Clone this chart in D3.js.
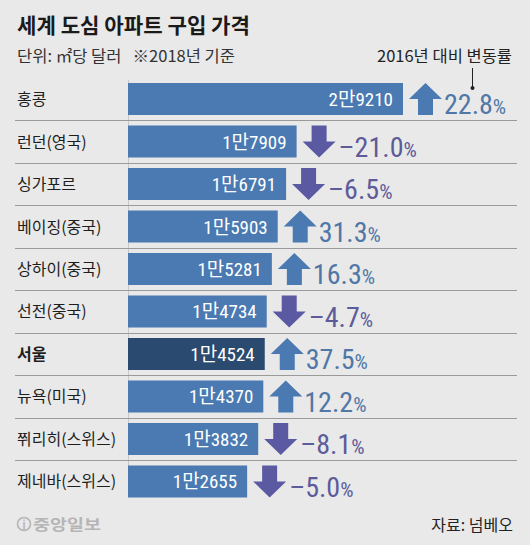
<!DOCTYPE html>
<html><head><meta charset="utf-8">
<script src="https://cdn.jsdelivr.net/npm/d3@7"></script>
<style>
html,body{margin:0;padding:0;background:#e9e9e9;}
svg{display:block;}
</style></head>
<body>
<svg id="chart" width="530" height="545"></svg>
<script>
const cities = ["홍콩","런던(영국)","싱가포르","베이징(중국)","상하이(중국)","선전(중국)","서울","뉴욕(미국)","쮜리히(스위스)","제네바(스위스)"];
const prices = [29210,17909,16791,15903,15281,14734,14524,14370,13832,12655];
const priceLabels = ["2만9210","1만7909","1만6791","1만5903","1만5281","1만4734","1만4524","1만4370","1만3832","1만2655"];
const changes = [22.8,-21.0,-6.5,31.3,16.3,-4.7,37.5,12.2,-8.1,-5.0];
const highlight = ["서울"];

const title = "세계 도심 아파트 구입 가격";
const subtitle = "단위: ㎡당 달러   ※2018년 기준";
const changeTitle = "2016년 대비 변동률";
const source = "자료: 넘베오";
const logo = "중앙일보";

const KR = "'Noto Sans CJK KR', sans-serif";
const NUM = "'Liberation Sans Narrow','Roboto Condensed','Arial Narrow','Noto Sans CJK KR',sans-serif";
const blue = "#4a7ab1", dark = "#2b4a6f", purple = "#5a59a2";
const upText = "#5077a6", downText = "#5d5b99";

const svg = d3.select("#chart");
const data = cities.map((c,i)=>({city:c, price:prices[i], label:priceLabels[i], change:changes[i]}));

const y = d3.scaleBand().domain(cities).range([83, 497.5]).paddingInner(0.247).paddingOuter(0);
const x = d3.scaleLinear().domain([0, 29210]).range([128, 403]);

// title
svg.append("text").attr("x",17).attr("y",33).text(title)
  .attr("font-family",KR).attr("font-weight","bold").attr("font-size",21)
  .attr("fill","#1a1a1a").attr("textLength",233).attr("lengthAdjust","spacingAndGlyphs");
svg.append("text").attr("x",17).attr("y",62).text(subtitle)
  .attr("font-family",KR).attr("font-size",16).attr("fill","#333")
  .attr("textLength",218).attr("lengthAdjust","spacingAndGlyphs").style("white-space","pre");
svg.append("text").attr("x",512).attr("y",62).attr("text-anchor","end").text(changeTitle)
  .attr("font-family",KR).attr("font-size",16).attr("fill","#222")
  .attr("textLength",135).attr("lengthAdjust","spacingAndGlyphs");
// pointer
svg.append("line").attr("x1",472.5).attr("x2",472.5).attr("y1",68).attr("y2",88).attr("stroke","#222").attr("stroke-width",1);
svg.append("circle").attr("cx",472.5).attr("cy",88).attr("r",2).attr("fill","#222");

// vertical faint line
svg.append("line").attr("x1",128.5).attr("x2",128.5).attr("y1",y(cities[0])-3).attr("y2",y(cities[cities.length-1])+y.bandwidth())
  .attr("stroke","#c8c8c8").attr("stroke-width",1);

// separators
const step = y.step();
svg.append("g").selectAll("line").data(cities.slice(0,-1)).join("line")
  .attr("x1",15).attr("x2",517)
  .attr("y1",d=>Math.round(y(d)+y.bandwidth()+ (step-y.bandwidth())/2)+0.5)
  .attr("y2",d=>Math.round(y(d)+y.bandwidth()+ (step-y.bandwidth())/2)+0.5)
  .attr("stroke","#9a9a9a").attr("stroke-width",1.2);

const rows = svg.append("g").selectAll("g").data(data).join("g");

// category labels
rows.append("text").attr("x",17).attr("y",d=>y(d.city)+y.bandwidth()/2+6)
  .text(d=>d.city).attr("font-family",KR).attr("font-size",16)
  .attr("font-weight",d=>highlight.includes(d.city)?"bold":"normal")
  .attr("fill","#1e1e1e");

// bars
rows.append("rect").attr("x",x(0)).attr("y",d=>y(d.city))
  .attr("width",d=>x(d.price)-x(0)).attr("height",y.bandwidth())
  .attr("fill",d=>highlight.includes(d.city)?dark:blue);

// value labels
rows.append("text").attr("x",d=>x(d.price)-10).attr("y",d=>y(d.city)+y.bandwidth()/2+7)
  .attr("text-anchor","end").text(d=>d.label)
  .attr("font-family",NUM).attr("font-size",19).attr("fill","#fff");

// arrows
const aw = 33, sw = 15, hh = 16, gap = 6;
rows.append("path").attr("d",d=>{
  const x0 = x(d.price)+gap, top = y(d.city), h = y.bandwidth(), cx = x0+aw/2;
  if (d.change >= 0) {
    return `M${cx},${top}L${x0+aw},${top+hh}L${cx+sw/2},${top+hh}L${cx+sw/2},${top+h}L${cx-sw/2},${top+h}L${cx-sw/2},${top+hh}L${x0},${top+hh}Z`;
  } else {
    const b = top+h;
    return `M${cx},${b}L${x0+aw},${b-hh}L${cx+sw/2},${b-hh}L${cx+sw/2},${top}L${cx-sw/2},${top}L${cx-sw/2},${b-hh}L${x0},${b-hh}Z`;
  }
}).attr("fill",d=>d.change>=0?blue:purple);

// change labels
const ct = rows.append("text").attr("x",d=>x(d.price)+gap+aw+(d.change<0?3:2)).attr("y",d=>y(d.city)+y.bandwidth()-1)
  .attr("font-family",NUM).attr("fill",d=>d.change>=0?upText:downText);
ct.append("tspan").attr("font-size",28).text(d=>(d.change<0?"–":"")+Math.abs(d.change).toFixed(1));
ct.append("tspan").attr("font-size",21).text("%");

// footer
svg.append("text").attr("x",513).attr("y",531).attr("text-anchor","end").text(source)
  .attr("font-family",KR).attr("font-size",16).attr("fill","#222");
svg.append("circle").attr("cx",24).attr("cy",524).attr("r",6.5).attr("fill","none").attr("stroke","#b5b5b5").attr("stroke-width",1.6);
svg.append("text").attr("x",24).attr("y",528).attr("text-anchor","middle").text("j")
  .attr("font-family",KR).attr("font-weight","bold").attr("font-size",10).attr("fill","#b5b5b5");
svg.append("text").attr("x",33).attr("y",530).text(logo)
  .attr("font-family",KR).attr("font-weight","bold").attr("font-size",15).attr("fill","#b5b5b5")
  .attr("textLength",68).attr("lengthAdjust","spacingAndGlyphs");
</script>
</body></html>
